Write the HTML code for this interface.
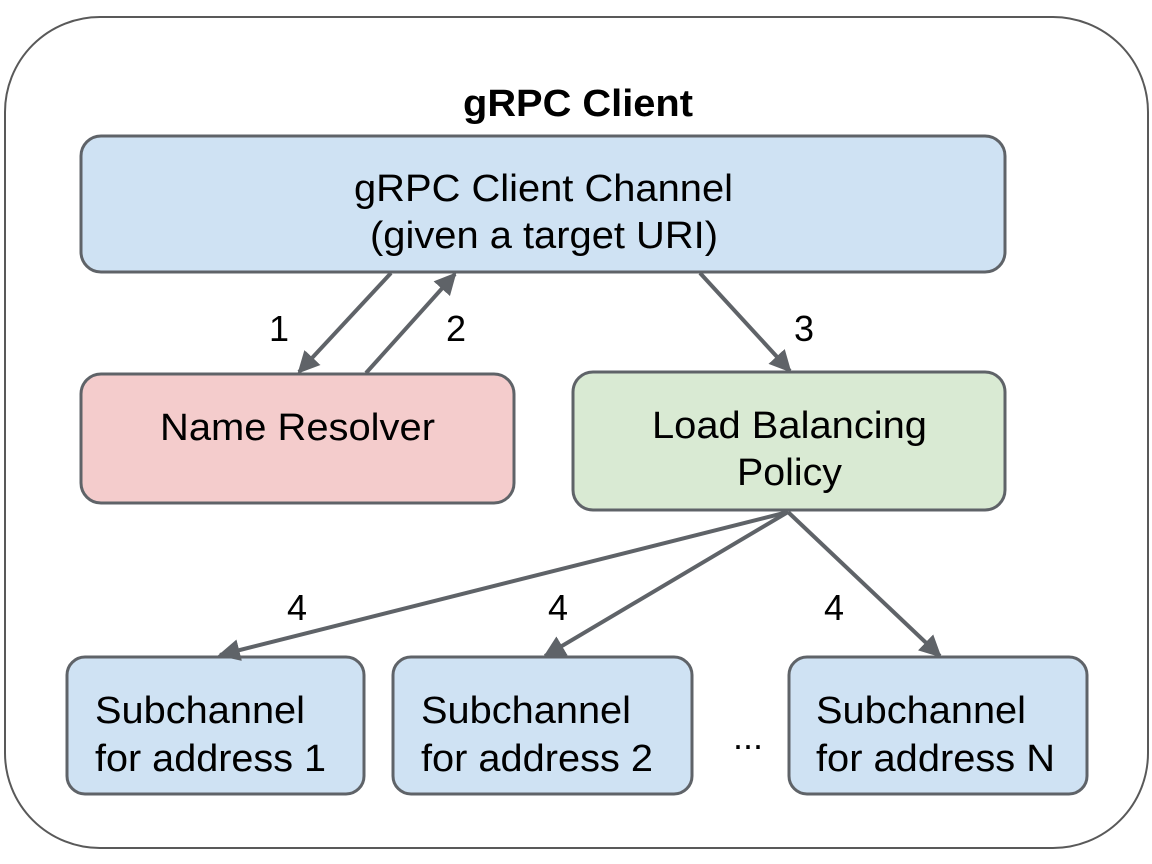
<!DOCTYPE html>
<html><head><style>
body{margin:0;background:#fff}
svg{display:block}
text{font-family:"Liberation Sans",sans-serif;fill:#000}
</style></head><body>
<svg width="1152" height="864" viewBox="0 0 1152 864" xmlns="http://www.w3.org/2000/svg">
<defs>
<marker id="h" viewBox="0 0 10 10" refX="9" refY="5" markerWidth="22" markerHeight="22" markerUnits="userSpaceOnUse" orient="auto">
<path d="M0,0 L10,5 L0,10 Z" fill="#5f6368"/>
</marker>
</defs>
<rect x="5" y="17" width="1143" height="831" rx="95" fill="#fff" stroke="#595959" stroke-width="2"/>
<text x="463" y="116" font-size="38" font-weight="bold" textLength="230" lengthAdjust="spacingAndGlyphs">gRPC Client</text>
<g stroke="#5f6368" stroke-width="3">
<rect x="81" y="136" width="924" height="136" rx="20" fill="#cfe2f3"/>
<rect x="81" y="374" width="433" height="129" rx="20" fill="#f4cccc"/>
<rect x="573" y="372" width="432" height="138" rx="20" fill="#d9ead3"/>
<rect x="67" y="657" width="297" height="137" rx="18" fill="#cfe2f3"/>
<rect x="393" y="657" width="299" height="137" rx="18" fill="#cfe2f3"/>
<rect x="789" y="657" width="298" height="137" rx="18" fill="#cfe2f3"/>
</g>
<g stroke="#5f6368" stroke-width="4" fill="none" marker-end="url(#h)">
<line x1="391" y1="273" x2="299" y2="372"/>
<line x1="366" y1="373" x2="455" y2="274"/>
<line x1="700" y1="273" x2="790" y2="371"/>
<line x1="788" y1="512" x2="220" y2="655"/>
<line x1="788" y1="512" x2="545" y2="656"/>
<line x1="788" y1="512" x2="940" y2="656"/>
</g>
<g font-size="38" lengthAdjust="spacingAndGlyphs">
<text x="354" y="201" textLength="379" lengthAdjust="spacingAndGlyphs">gRPC Client Channel</text>
<text x="370" y="248" textLength="348" lengthAdjust="spacingAndGlyphs">(given a target URI)</text>
<text x="160" y="440" textLength="275" lengthAdjust="spacingAndGlyphs">Name Resolver</text>
<text x="652" y="438" textLength="275" lengthAdjust="spacingAndGlyphs">Load Balancing</text>
<text x="737" y="485" textLength="105" lengthAdjust="spacingAndGlyphs">Policy</text>
<text x="95" y="723" textLength="210" lengthAdjust="spacingAndGlyphs">Subchannel</text>
<text x="95" y="771" textLength="231" lengthAdjust="spacingAndGlyphs">for address 1</text>
<text x="421" y="723" textLength="210" lengthAdjust="spacingAndGlyphs">Subchannel</text>
<text x="421" y="771" textLength="232" lengthAdjust="spacingAndGlyphs">for address 2</text>
<text x="816" y="723" textLength="210" lengthAdjust="spacingAndGlyphs">Subchannel</text>
<text x="816" y="771" textLength="239" lengthAdjust="spacingAndGlyphs">for address N</text>
</g>
<g font-size="36" text-anchor="middle">
<text x="279" y="341">1</text>
<text x="456" y="341">2</text>
<text x="804" y="341">3</text>
<text x="297" y="620">4</text>
<text x="558" y="620">4</text>
<text x="834" y="620">4</text>
<text x="748" y="749">...</text>
</g>
</svg>
</body></html>
